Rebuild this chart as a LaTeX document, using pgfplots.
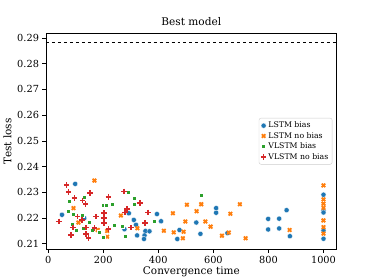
\documentclass[border=0pt]{standalone}
\usepackage{fontspec}
\setmainfont{DejaVu Serif}
\usepackage{pgfplots}
\pgfplotsset{compat=1.18}
\definecolor{tblue}{HTML}{1F77B4}
\definecolor{torange}{HTML}{FF7F0E}
\definecolor{tgreen}{HTML}{2CA02C}
\definecolor{tred}{HTML}{D62728}
\begin{document}
\begin{tikzpicture}
\useasboundingbox (-46bp,-30.7bp) rectangle (328bp,249.3bp);
\begin{axis}[
  at={(0,0)}, anchor=south west,
  scale only axis, width=290.7bp, height=216bp,
  xmin=-8, xmax=1048, ymin=0.2079, ymax=0.2918,
  xtick={0,200,400,600,800,1000},
  ytick={0.21,0.22,0.23,0.24,0.25,0.26,0.27,0.28,0.29},
  scaled y ticks=false,
  yticklabel style={/pgf/number format/.cd, fixed, fixed zerofill, precision=2},
  xticklabel style={/pgf/number format/.cd, set thousands separator={}, /tikz/.cd, yshift=0.5bp},
  /pgf/number format/assume math mode=true,
  tick align=outside, xtick pos=bottom, ytick pos=left,
  major tick length=3.5bp,
  axis line style={line width=0.8bp},
  every tick/.style={black, line width=0.8bp},
  tick label style={font=\fontsize{9.8}{11}\selectfont},
  label style={font=\fontsize{10.5}{12}\selectfont},
  xlabel style={yshift=3.5bp},
  ylabel style={yshift=-1bp},
  title style={font=\fontsize{10.6}{12}\selectfont, yshift=-2bp},
  title={Best model},
  xlabel={Convergence time}, ylabel={Test loss},
  legend style={at={(0.985,0.608)}, anchor=north east,
    font=\fontsize{7.8}{9}\selectfont, draw=black!20, rounded corners=2bp,
    inner sep=1.8bp, row sep=-1bp},
  legend cell align=left,
  legend image code/.code={\draw[mark repeat=2,mark phase=2] plot coordinates {(0cm,0cm)(0.17cm,0cm)(0.34cm,0cm)};},
]
\addplot[black, dashed, line width=0.9bp, forget plot] coordinates {(-8,0.2881) (1048,0.2881)};
\addplot[only marks, mark=*, mark size=2.6bp, mark options={fill=tblue, draw=white, line width=0.3bp}] coordinates {
(98,0.2333) (50,0.2213) (131,0.2200) (293,0.2219) (311,0.2193) (277,0.2157) (319,0.2174)
(323,0.2133) (353,0.2150) (368,0.2149) (350,0.2133) (348,0.2119) (395,0.2216) (410,0.2188)
(477,0.2154) (469,0.2119) (538,0.2183) (553,0.2139) (610,0.2239) (610,0.2221) (651,0.2142)
(799,0.2197) (799,0.2156) (839,0.2198) (839,0.2160) (866,0.2231) (878,0.2130)
(1000,0.2291) (1000,0.2229) (1000,0.2222) (1000,0.2152) (1000,0.2120)
};
\addlegendentry{LSTM bias}
\addplot[only marks, mark=x, mark size=2.5bp, mark options={draw=torange, line width=1.8bp}] coordinates {
(168,0.2346) (92,0.2239) (110,0.2183) (180,0.2154) (214,0.2150) (214,0.2128) (264,0.2210)
(324,0.2161) (420,0.2151) (453,0.2219) (456,0.2145) (492,0.2147) (489,0.2122) (504,0.2252)
(498,0.2187) (539,0.2227) (556,0.2254) (571,0.2187) (590,0.2167) (631,0.2132) (656,0.2144)
(662,0.2217) (696,0.2254) (717,0.2122) (877,0.2154)
(1000,0.2327) (1000,0.2273) (1000,0.2256) (1000,0.2240) (1000,0.2191) (1000,0.2165) (1000,0.2140)
};
\addlegendentry{LSTM no bias}
\addplot[only marks, mark=square*, mark size=2.0bp, mark options={fill=tgreen, draw=white, line width=0.3bp}] coordinates {
(77,0.2267) (129,0.2282) (74,0.2226) (89,0.2217) (125,0.2213) (86,0.2177) (103,0.2154)
(128,0.2161) (149,0.2183) (161,0.2154) (186,0.2144) (198,0.2125) (198,0.2251) (210,0.2251)
(234,0.2254) (240,0.2171) (268,0.2167) (278,0.2131) (291,0.2300) (314,0.2278) (313,0.2256)
(386,0.2188) (555,0.2291)
};
\addlegendentry{VLSTM bias}
\addplot[only marks, mark=+, mark size=2.8bp, mark options={draw=tred, line width=1.6bp}] coordinates {
(67,0.2329) (74,0.2301) (95,0.2278) (125,0.2268) (135,0.2254) (152,0.2297) (40,0.2187)
(107,0.2206) (123,0.2193) (89,0.2163) (83,0.2135) (137,0.2163) (137,0.2138) (147,0.2122)
(168,0.2161) (174,0.2206) (202,0.2219) (202,0.2200) (202,0.2181) (219,0.2283) (219,0.2157)
(275,0.2304) (286,0.2235) (279,0.2222) (301,0.2163) (333,0.2260) (362,0.2222) (352,0.2180)
};
\addlegendentry{VLSTM no bias}
\end{axis}
\end{tikzpicture}
\end{document}
